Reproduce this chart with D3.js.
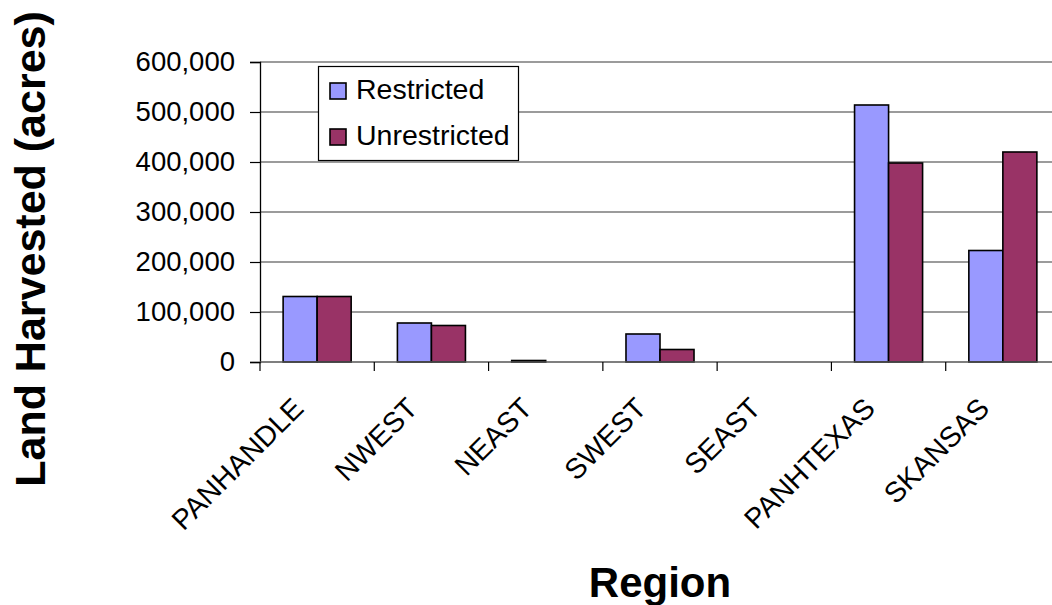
<!DOCTYPE html>
<html>
<head>
<meta charset="utf-8">
<script src="https://cdn.jsdelivr.net/npm/d3@7"></script>
<style>
html, body { margin: 0; padding: 0; background: #fff; overflow: hidden; }
svg { display: block; font-family: "Liberation Sans", Arial, sans-serif; }
</style>
</head>
<body>
<svg id="chart" width="1052" height="605"></svg>
<script>
const categories = ["PANHANDLE", "NWEST", "NEAST", "SWEST", "SEAST", "PANHTEXAS", "SKANSAS"];
const seriesNames = ["Restricted", "Unrestricted"];
const restricted = [131000, 78000, 3000, 56000, 0, 514000, 223000];
const unrestricted = [131000, 73000, 0, 25000, 0, 398000, 420000];
const yTicks = [0, 100000, 200000, 300000, 400000, 500000, 600000];
const colors = ["#9999FF", "#993366"];

const svg = d3.select("#chart");
const plotLeft = 260, plotRight = 1060, plotTop = 62, plotBottom = 362;

const x0 = d3.scaleBand().domain(categories).range([plotLeft, plotRight]).padding(0);
const x1 = d3.scaleBand().domain(seriesNames).range([0, x0.bandwidth()]).paddingInner(0).paddingOuter(0.68);
const y = d3.scaleLinear().domain([0, 600000]).range([plotBottom, plotTop]);

// gridlines
svg.append("g").selectAll("line").data(yTicks.filter(d => d > 0)).join("line")
  .attr("x1", plotLeft).attr("x2", plotRight)
  .attr("y1", d => y(d)).attr("y2", d => y(d))
  .attr("stroke", "#7a7a7a").attr("stroke-width", 1.4);

// bars
const data = categories.map((c, i) => ({ c, vals: [restricted[i], unrestricted[i]] }));
const groups = svg.append("g").selectAll("g").data(data).join("g")
  .attr("transform", d => `translate(${x0(d.c)},0)`);
groups.selectAll("rect").data(d => d.vals.map((v, j) => ({ s: seriesNames[j], v, j })).filter(e => e.v > 0))
  .join("rect")
  .attr("x", e => x1(e.s))
  .attr("width", x1.bandwidth())
  .attr("y", e => y(e.v))
  .attr("height", e => Math.max(0, plotBottom - y(e.v)))
  .attr("fill", e => colors[e.j])
  .attr("stroke", "#000").attr("stroke-width", 1.6);

// y axis
const yAxis = d3.axisLeft(y).tickValues(yTicks).tickSize(10).tickPadding(15).tickFormat(d3.format(","));
const ga = svg.append("g").attr("transform", `translate(${plotLeft},0)`).call(yAxis);
ga.select(".domain").attr("stroke", "#000").attr("stroke-width", 1.3);
ga.selectAll(".tick line").attr("stroke", "#000").attr("stroke-width", 1.2);
ga.selectAll(".tick text").attr("font-size", 27.5).attr("fill", "#000")
  .attr("font-family", "'Liberation Sans', Arial, sans-serif");

// x axis line and ticks at band boundaries
svg.append("line").attr("x1", plotLeft).attr("x2", plotRight).attr("y1", plotBottom).attr("y2", plotBottom)
  .attr("stroke", "#555").attr("stroke-width", 1.5);
const xTickPos = categories.map(c => x0(c));
svg.append("g").selectAll("line").data(xTickPos).join("line")
  .attr("x1", d => d).attr("x2", d => d).attr("y1", plotBottom).attr("y2", plotBottom + 9)
  .attr("stroke", "#000").attr("stroke-width", 1.2);

// category labels
svg.append("g").selectAll("text").data(categories).join("text")
  .attr("transform", c => `translate(${x0(c) + x0.bandwidth() / 2 - 12},${plotBottom + 48}) rotate(-45)`)
  .attr("text-anchor", "end")
  .attr("font-size", 28.5)
  .attr("fill", "#000")
  .text(c => c);

// axis titles
svg.append("text")
  .attr("transform", `translate(45,249) rotate(-90)`)
  .attr("text-anchor", "middle")
  .attr("font-size", 43).attr("font-weight", "bold").attr("fill", "#000")
  .text("Land Harvested (acres)");
svg.append("text")
  .attr("x", 660).attr("y", 597)
  .attr("text-anchor", "middle")
  .attr("font-size", 42).attr("font-weight", "bold").attr("fill", "#000")
  .text("Region");

// legend
const lg = svg.append("g");
lg.append("rect").attr("x", 318.5).attr("y", 66.5).attr("width", 200).attr("height", 94)
  .attr("fill", "#fff").attr("stroke", "#000").attr("stroke-width", 1.2);
const legY = [99, 145];
seriesNames.forEach((s, j) => {
  lg.append("rect").attr("x", 330).attr("y", legY[j] - 16).attr("width", 16).attr("height", 16)
    .attr("fill", colors[j]).attr("stroke", "#000").attr("stroke-width", 1.6);
  lg.append("text").attr("x", 356).attr("y", legY[j])
    .attr("font-size", 28.5).attr("fill", "#000").text(s);
});
</script>
</body>
</html>
